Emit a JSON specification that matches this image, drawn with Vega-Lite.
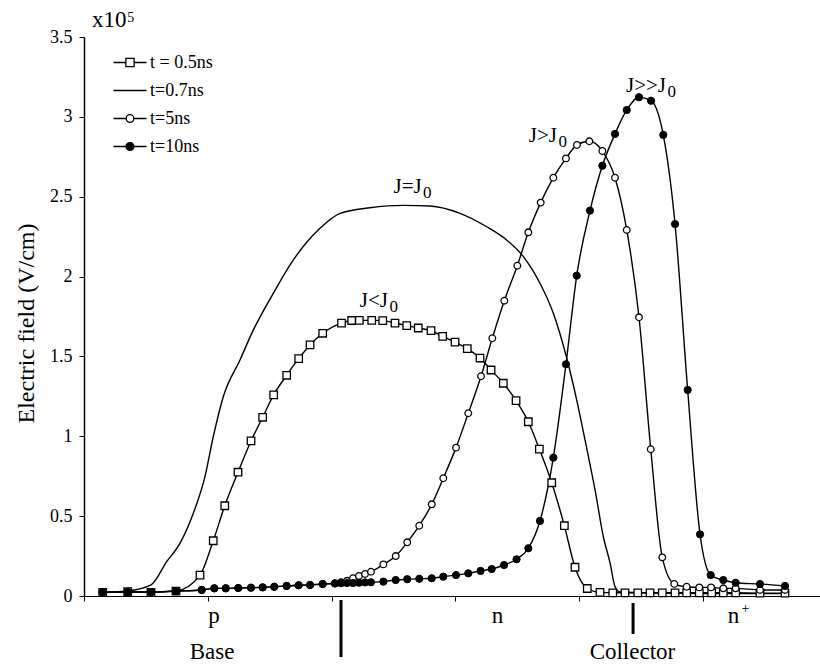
{
  "$schema": "https://vega.github.io/schema/vega-lite/v6.json",
  "width": 736,
  "height": 559,
  "autosize": {"type": "none"},
  "padding": {"left": 84, "top": 37, "right": 0, "bottom": 69},
  "background": "white",
  "config": {
    "view": {"stroke": null},
    "font": "Liberation Serif, Times New Roman, DejaVu Serif, serif",
    "axis": {"labelFont": "Liberation Serif, Times New Roman, DejaVu Serif, serif", "titleFont": "Liberation Serif, Times New Roman, DejaVu Serif, serif", "labelColor": "black", "titleColor": "black", "grid": false},
    "legend": {"labelFont": "Liberation Serif, Times New Roman, DejaVu Serif, serif"},
    "text": {"font": "Liberation Serif, Times New Roman, DejaVu Serif, serif", "color": "black"}
  },
  "datasets": {
    "curves": [
      {"series": "t = 0.5ns", "x": 0.151, "y": 0.023}, {"series": "t = 0.5ns", "x": 0.353, "y": 0.027}, {"series": "t = 0.5ns", "x": 0.541, "y": 0.023}, {"series": "t = 0.5ns", "x": 0.743, "y": 0.031}, {"series": "t = 0.5ns", "x": 0.937, "y": 0.131}, {"series": "t = 0.5ns", "x": 1.044, "y": 0.346}, {"series": "t = 0.5ns", "x": 1.137, "y": 0.565}, {"series": "t = 0.5ns", "x": 1.244, "y": 0.775}, {"series": "t = 0.5ns", "x": 1.349, "y": 0.971}, {"series": "t = 0.5ns", "x": 1.443, "y": 1.119}, {"series": "t = 0.5ns", "x": 1.532, "y": 1.259}, {"series": "t = 0.5ns", "x": 1.637, "y": 1.382}, {"series": "t = 0.5ns", "x": 1.734, "y": 1.486}, {"series": "t = 0.5ns", "x": 1.826, "y": 1.572}, {"series": "t = 0.5ns", "x": 1.928, "y": 1.645}, {"series": "t = 0.5ns", "x": 2.08, "y": 1.709}, {"series": "t = 0.5ns", "x": 2.162, "y": 1.725}, {"series": "t = 0.5ns", "x": 2.224, "y": 1.726}, {"series": "t = 0.5ns", "x": 2.324, "y": 1.726}, {"series": "t = 0.5ns", "x": 2.413, "y": 1.724}, {"series": "t = 0.5ns", "x": 2.512, "y": 1.709}, {"series": "t = 0.5ns", "x": 2.607, "y": 1.693}, {"series": "t = 0.5ns", "x": 2.7, "y": 1.678}, {"series": "t = 0.5ns", "x": 2.803, "y": 1.661}, {"series": "t = 0.5ns", "x": 2.897, "y": 1.626}, {"series": "t = 0.5ns", "x": 2.997, "y": 1.589}, {"series": "t = 0.5ns", "x": 3.096, "y": 1.549}, {"series": "t = 0.5ns", "x": 3.199, "y": 1.49}, {"series": "t = 0.5ns", "x": 3.288, "y": 1.415}, {"series": "t = 0.5ns", "x": 3.387, "y": 1.332}, {"series": "t = 0.5ns", "x": 3.49, "y": 1.223}, {"series": "t = 0.5ns", "x": 3.589, "y": 1.091}, {"series": "t = 0.5ns", "x": 3.678, "y": 0.92}, {"series": "t = 0.5ns", "x": 3.778, "y": 0.709}, {"series": "t = 0.5ns", "x": 3.88, "y": 0.44}, {"series": "t = 0.5ns", "x": 3.966, "y": 0.18}, {"series": "t = 0.5ns", "x": 4.065, "y": 0.047}, {"series": "t = 0.5ns", "x": 4.168, "y": 0.023}, {"series": "t = 0.5ns", "x": 4.271, "y": 0.02}, {"series": "t = 0.5ns", "x": 4.37, "y": 0.02}, {"series": "t = 0.5ns", "x": 4.473, "y": 0.02}, {"series": "t = 0.5ns", "x": 4.572, "y": 0.02}, {"series": "t = 0.5ns", "x": 4.671, "y": 0.02}, {"series": "t = 0.5ns", "x": 4.774, "y": 0.02}, {"series": "t = 0.5ns", "x": 4.868, "y": 0.02}, {"series": "t = 0.5ns", "x": 4.97, "y": 0.02}, {"series": "t = 0.5ns", "x": 5.07, "y": 0.02}, {"series": "t = 0.5ns", "x": 5.164, "y": 0.02}, {"series": "t = 0.5ns", "x": 5.264, "y": 0.02}, {"series": "t = 0.5ns", "x": 5.46, "y": 0.018}, {"series": "t = 0.5ns", "x": 5.662, "y": 0.018},
      {"series": "t=0.7ns", "x": 0.151, "y": 0.023}, {"series": "t=0.7ns", "x": 0.353, "y": 0.031}, {"series": "t=0.7ns", "x": 0.541, "y": 0.069}, {"series": "t=0.7ns", "x": 0.668, "y": 0.215}, {"series": "t=0.7ns", "x": 0.775, "y": 0.33}, {"series": "t=0.7ns", "x": 0.883, "y": 0.518}, {"series": "t=0.7ns", "x": 0.977, "y": 0.747}, {"series": "t=0.7ns", "x": 1.044, "y": 0.997}, {"series": "t=0.7ns", "x": 1.125, "y": 1.248}, {"series": "t=0.7ns", "x": 1.26, "y": 1.478}, {"series": "t=0.7ns", "x": 1.368, "y": 1.666}, {"series": "t=0.7ns", "x": 1.529, "y": 1.895}, {"series": "t=0.7ns", "x": 1.691, "y": 2.104}, {"series": "t=0.7ns", "x": 1.906, "y": 2.302}, {"series": "t=0.7ns", "x": 2.068, "y": 2.396}, {"series": "t=0.7ns", "x": 2.31, "y": 2.431}, {"series": "t=0.7ns", "x": 2.579, "y": 2.446}, {"series": "t=0.7ns", "x": 2.795, "y": 2.442}, {"series": "t=0.7ns", "x": 3.037, "y": 2.396}, {"series": "t=0.7ns", "x": 3.253, "y": 2.312}, {"series": "t=0.7ns", "x": 3.414, "y": 2.229}, {"series": "t=0.7ns", "x": 3.549, "y": 2.125}, {"series": "t=0.7ns", "x": 3.683, "y": 1.958}, {"series": "t=0.7ns", "x": 3.791, "y": 1.77}, {"series": "t=0.7ns", "x": 3.899, "y": 1.49}, {"series": "t=0.7ns", "x": 3.98, "y": 1.227}, {"series": "t=0.7ns", "x": 4.047, "y": 0.977}, {"series": "t=0.7ns", "x": 4.128, "y": 0.664}, {"series": "t=0.7ns", "x": 4.195, "y": 0.371}, {"series": "t=0.7ns", "x": 4.249, "y": 0.207}, {"series": "t=0.7ns", "x": 4.289, "y": 0.06}, {"series": "t=0.7ns", "x": 4.33, "y": 0.025}, {"series": "t=0.7ns", "x": 4.6, "y": 0.018}, {"series": "t=0.7ns", "x": 5.0, "y": 0.015}, {"series": "t=0.7ns", "x": 5.662, "y": 0.015},
      {"series": "t=5ns", "x": 0.151, "y": 0.023}, {"series": "t=5ns", "x": 0.353, "y": 0.025}, {"series": "t=5ns", "x": 0.541, "y": 0.025}, {"series": "t=5ns", "x": 0.743, "y": 0.031}, {"series": "t=5ns", "x": 0.951, "y": 0.038}, {"series": "t=5ns", "x": 1.053, "y": 0.048}, {"series": "t=5ns", "x": 1.145, "y": 0.048}, {"series": "t=5ns", "x": 1.246, "y": 0.05}, {"series": "t=5ns", "x": 1.349, "y": 0.052}, {"series": "t=5ns", "x": 1.443, "y": 0.054}, {"series": "t=5ns", "x": 1.537, "y": 0.058}, {"series": "t=5ns", "x": 1.637, "y": 0.063}, {"series": "t=5ns", "x": 1.734, "y": 0.067}, {"series": "t=5ns", "x": 1.826, "y": 0.069}, {"series": "t=5ns", "x": 1.928, "y": 0.075}, {"series": "t=5ns", "x": 2.027, "y": 0.08}, {"series": "t=5ns", "x": 2.076, "y": 0.086}, {"series": "t=5ns", "x": 2.124, "y": 0.095}, {"series": "t=5ns", "x": 2.173, "y": 0.111}, {"series": "t=5ns", "x": 2.221, "y": 0.125}, {"series": "t=5ns", "x": 2.27, "y": 0.138}, {"series": "t=5ns", "x": 2.318, "y": 0.152}, {"series": "t=5ns", "x": 2.418, "y": 0.198}, {"series": "t=5ns", "x": 2.518, "y": 0.25}, {"series": "t=5ns", "x": 2.611, "y": 0.336}, {"series": "t=5ns", "x": 2.708, "y": 0.44}, {"series": "t=5ns", "x": 2.809, "y": 0.574}, {"series": "t=5ns", "x": 2.902, "y": 0.737}, {"series": "t=5ns", "x": 3.005, "y": 0.929}, {"series": "t=5ns", "x": 3.104, "y": 1.144}, {"series": "t=5ns", "x": 3.207, "y": 1.376}, {"series": "t=5ns", "x": 3.298, "y": 1.614}, {"series": "t=5ns", "x": 3.395, "y": 1.849}, {"series": "t=5ns", "x": 3.5, "y": 2.068}, {"series": "t=5ns", "x": 3.589, "y": 2.277}, {"series": "t=5ns", "x": 3.689, "y": 2.463}, {"series": "t=5ns", "x": 3.791, "y": 2.619}, {"series": "t=5ns", "x": 3.893, "y": 2.74}, {"series": "t=5ns", "x": 3.982, "y": 2.824}, {"series": "t=5ns", "x": 4.082, "y": 2.847}, {"series": "t=5ns", "x": 4.187, "y": 2.786}, {"series": "t=5ns", "x": 4.289, "y": 2.619}, {"series": "t=5ns", "x": 4.384, "y": 2.292}, {"series": "t=5ns", "x": 4.483, "y": 1.745}, {"series": "t=5ns", "x": 4.578, "y": 0.919}, {"series": "t=5ns", "x": 4.671, "y": 0.242}, {"series": "t=5ns", "x": 4.768, "y": 0.075}, {"series": "t=5ns", "x": 4.868, "y": 0.058}, {"series": "t=5ns", "x": 4.97, "y": 0.054}, {"series": "t=5ns", "x": 5.065, "y": 0.054}, {"series": "t=5ns", "x": 5.164, "y": 0.048}, {"series": "t=5ns", "x": 5.264, "y": 0.048}, {"series": "t=5ns", "x": 5.46, "y": 0.038}, {"series": "t=5ns", "x": 5.662, "y": 0.038},
      {"series": "t=10ns", "x": 0.151, "y": 0.023}, {"series": "t=10ns", "x": 0.353, "y": 0.025}, {"series": "t=10ns", "x": 0.541, "y": 0.025}, {"series": "t=10ns", "x": 0.743, "y": 0.031}, {"series": "t=10ns", "x": 0.951, "y": 0.038}, {"series": "t=10ns", "x": 1.053, "y": 0.048}, {"series": "t=10ns", "x": 1.145, "y": 0.048}, {"series": "t=10ns", "x": 1.246, "y": 0.05}, {"series": "t=10ns", "x": 1.349, "y": 0.052}, {"series": "t=10ns", "x": 1.443, "y": 0.054}, {"series": "t=10ns", "x": 1.537, "y": 0.058}, {"series": "t=10ns", "x": 1.637, "y": 0.063}, {"series": "t=10ns", "x": 1.734, "y": 0.067}, {"series": "t=10ns", "x": 1.826, "y": 0.069}, {"series": "t=10ns", "x": 1.928, "y": 0.075}, {"series": "t=10ns", "x": 2.027, "y": 0.078}, {"series": "t=10ns", "x": 2.076, "y": 0.08}, {"series": "t=10ns", "x": 2.124, "y": 0.081}, {"series": "t=10ns", "x": 2.173, "y": 0.081}, {"series": "t=10ns", "x": 2.221, "y": 0.083}, {"series": "t=10ns", "x": 2.27, "y": 0.085}, {"series": "t=10ns", "x": 2.318, "y": 0.086}, {"series": "t=10ns", "x": 2.418, "y": 0.09}, {"series": "t=10ns", "x": 2.518, "y": 0.1}, {"series": "t=10ns", "x": 2.611, "y": 0.105}, {"series": "t=10ns", "x": 2.708, "y": 0.108}, {"series": "t=10ns", "x": 2.809, "y": 0.111}, {"series": "t=10ns", "x": 2.902, "y": 0.121}, {"series": "t=10ns", "x": 3.005, "y": 0.131}, {"series": "t=10ns", "x": 3.104, "y": 0.142}, {"series": "t=10ns", "x": 3.203, "y": 0.157}, {"series": "t=10ns", "x": 3.293, "y": 0.169}, {"series": "t=10ns", "x": 3.393, "y": 0.194}, {"series": "t=10ns", "x": 3.494, "y": 0.23}, {"series": "t=10ns", "x": 3.589, "y": 0.299}, {"series": "t=10ns", "x": 3.683, "y": 0.47}, {"series": "t=10ns", "x": 3.791, "y": 0.866}, {"series": "t=10ns", "x": 3.893, "y": 1.451}, {"series": "t=10ns", "x": 3.98, "y": 2.006}, {"series": "t=10ns", "x": 4.087, "y": 2.413}, {"series": "t=10ns", "x": 4.187, "y": 2.694}, {"series": "t=10ns", "x": 4.289, "y": 2.893}, {"series": "t=10ns", "x": 4.384, "y": 3.043}, {"series": "t=10ns", "x": 4.483, "y": 3.123}, {"series": "t=10ns", "x": 4.58, "y": 3.101}, {"series": "t=10ns", "x": 4.679, "y": 2.887}, {"series": "t=10ns", "x": 4.774, "y": 2.329}, {"series": "t=10ns", "x": 4.876, "y": 1.29}, {"series": "t=10ns", "x": 4.976, "y": 0.386}, {"series": "t=10ns", "x": 5.062, "y": 0.131}, {"series": "t=10ns", "x": 5.164, "y": 0.1}, {"series": "t=10ns", "x": 5.264, "y": 0.083}, {"series": "t=10ns", "x": 5.46, "y": 0.075}, {"series": "t=10ns", "x": 5.662, "y": 0.063}
    ],
    "jmain": [
      {"label": "J=J", "x": 2.728, "y": 2.522},
      {"label": "J<J", "x": 2.456, "y": 1.81},
      {"label": "J>J", "x": 3.821, "y": 2.845},
      {"label": "J>>J", "x": 4.701, "y": 3.158}
    ],
    "jsub": [
      {"label": "0", "x": 2.738, "y": 2.492},
      {"label": "0", "x": 2.468, "y": 1.779},
      {"label": "0", "x": 3.833, "y": 2.813},
      {"label": "0", "x": 4.713, "y": 3.127}
    ],
    "regions": [
      {"label": "p", "x": 1.05, "y": -0.172},
      {"label": "n", "x": 3.34, "y": -0.172},
      {"label": "n", "x": 5.246, "y": -0.172},
      {"label": "Base", "x": 1.034, "y": -0.394},
      {"label": "Collector", "x": 4.43, "y": -0.394}
    ],
    "sups": [
      {"label": "+", "x": 5.31, "y": -0.106},
      {"label": "5", "x": 0.35, "y": 3.596}
    ],
    "scale": [
      {"label": "x10", "x": 0.065, "y": 3.563}
    ],
    "bars": [
      {"x": 2.076, "y": -0.025, "y2": -0.382},
      {"x": 4.435, "y": -0.044, "y2": -0.238}
    ]
  },
  "encoding": {
    "x": {
      "field": "x", "type": "quantitative",
      "scale": {"domain": [0, 5.945], "nice": false, "zero": false},
      "axis": {"title": null, "labels": false, "values": [0, 1, 2, 3, 4, 5], "tickSize": 5, "tickColor": "black", "domainColor": "black", "domainWidth": 1.2}
    },
    "y": {
      "field": "y", "type": "quantitative",
      "scale": {"domain": [0, 3.5], "nice": false, "zero": false},
      "axis": {
        "title": "Electric field (V/cm)", "values": [0, 0.5, 1, 1.5, 2, 2.5, 3, 3.5], "format": ".1~f",
        "labelFontSize": 18, "tickSize": 5, "tickColor": "black", "labelPadding": 7,
        "domainColor": "black", "domainWidth": 1.5,
        "titleFontSize": 24, "titleFontWeight": "normal", "titleAngle": -90, "titleX": -51, "titleY": 286,
        "titleAlign": "center", "titleBaseline": "alphabetic"
      }
    }
  },
  "layer": [
    {
      "data": {"values": [{}]},
      "mark": {"type": "rule", "color": "#777777", "strokeDash": [1, 2], "strokeWidth": 1},
      "encoding": {"x": {"datum": 0}, "x2": {"datum": 5.945}, "y": {"datum": 3.5}}
    },
    {
      "data": {"name": "curves"},
      "mark": {"type": "line", "interpolate": "monotone", "color": "black", "strokeWidth": 1.4},
      "encoding": {"detail": {"field": "series"}}
    },
    {
      "data": {"name": "curves"},
      "transform": [{"filter": "datum.series === 't = 0.5ns'"}],
      "mark": {"type": "point", "shape": "square", "filled": true, "fill": "white", "stroke": "black", "strokeWidth": 1.3, "size": 56, "opacity": 1}
    },
    {
      "data": {"name": "curves"},
      "transform": [{"filter": "datum.series === 't=5ns'"}],
      "mark": {"type": "point", "shape": "circle", "filled": true, "fill": "white", "stroke": "black", "strokeWidth": 1.3, "size": 44, "opacity": 1}
    },
    {
      "data": {"name": "curves"},
      "transform": [{"filter": "datum.series === 't=10ns'"}],
      "mark": {"type": "point", "shape": "circle", "filled": true, "fill": "black", "stroke": "black", "strokeWidth": 1, "size": 52, "opacity": 1}
    },
    {
      "data": {"name": "curves"},
      "transform": [{"filter": "false"}],
      "mark": {"type": "point", "filled": true, "size": 1089, "opacity": 1, "strokeWidth": 1.3},
      "encoding": {
        "shape": {
          "field": "series", "type": "nominal",
          "scale": {"domain": ["t = 0.5ns", "t=0.7ns", "t=5ns", "t=10ns"], "range": ["M-1,0H-0.25M0.25,0H1M-0.25,-0.25H0.25V0.25H-0.25Z", "M-1,0H1", "M-1,0H-0.23M0.23,0H1M-0.23,0A0.23,0.23,0,1,1,0.23,0A0.23,0.23,0,1,1,-0.23,0Z", "M-1,0H1M-0.24,0A0.24,0.24,0,1,1,0.24,0A0.24,0.24,0,1,1,-0.24,0Z"]},
          "legend": {
            "title": null, "orient": "none", "legendX": 28.5, "legendY": 8, "padding": 0,
            "symbolSize": 1089, "labelFontSize": 18, "labelOffset": 2.5, "rowPadding": 1,
            "symbolStrokeWidth": 1.3, "symbolOpacity": 1, "labelColor": "black"
          }
        },
        "fill": {
          "field": "series", "type": "nominal",
          "scale": {"domain": ["t = 0.5ns", "t=0.7ns", "t=5ns", "t=10ns"], "range": ["white", "white", "white", "black"]}
        },
        "stroke": {
          "field": "series", "type": "nominal",
          "scale": {"domain": ["t = 0.5ns", "t=0.7ns", "t=5ns", "t=10ns"], "range": ["black", "black", "black", "black"]}
        }
      }
    },
    {
      "data": {"name": "bars"},
      "mark": {"type": "rule", "color": "black", "strokeWidth": 3},
      "encoding": {"y2": {"field": "y2"}}
    },
    {
      "data": {"name": "jmain"},
      "mark": {"type": "text", "align": "right", "baseline": "alphabetic", "fontSize": 21},
      "encoding": {"text": {"field": "label"}}
    },
    {
      "data": {"name": "jsub"},
      "mark": {"type": "text", "align": "left", "baseline": "alphabetic", "fontSize": 17},
      "encoding": {"text": {"field": "label"}}
    },
    {
      "data": {"name": "regions"},
      "mark": {"type": "text", "align": "center", "baseline": "alphabetic", "fontSize": 23},
      "encoding": {"text": {"field": "label"}}
    },
    {
      "data": {"name": "sups"},
      "mark": {"type": "text", "align": "left", "baseline": "alphabetic", "fontSize": 14},
      "encoding": {"text": {"field": "label"}}
    },
    {
      "data": {"name": "scale"},
      "mark": {"type": "text", "align": "left", "baseline": "alphabetic", "fontSize": 23},
      "encoding": {"text": {"field": "label"}}
    }
  ]
}
